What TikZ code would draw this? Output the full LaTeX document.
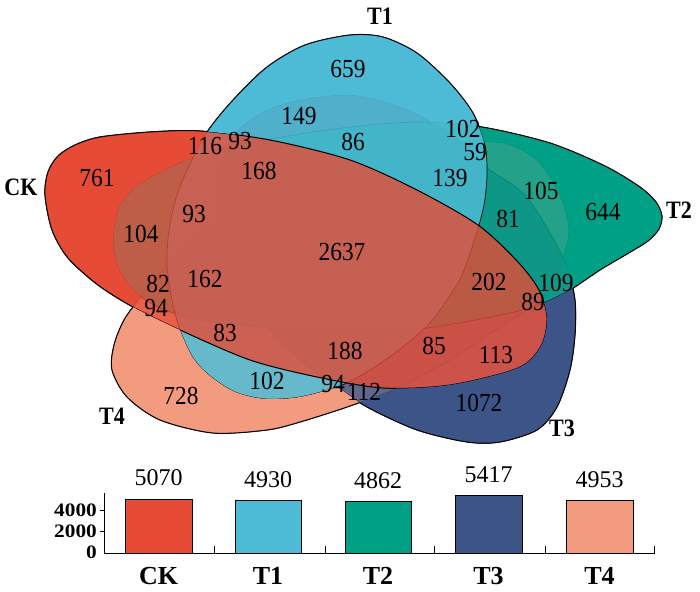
\documentclass[tikz,border=0pt]{standalone}
\usepackage{fontspec}
\setmainfont{Liberation Serif}
\newfontfamily\numfont[FakeStretch=0.9]{Liberation Serif}
\newfontfamily\labfont[FakeStretch=0.88]{Liberation Serif}
\newfontfamily\tickfont[FakeStretch=1.12]{Liberation Serif}
\definecolor{cCK}{HTML}{E64B35}
\definecolor{cTa}{HTML}{4DBBD5}
\definecolor{cTb}{HTML}{00A087}
\definecolor{cTc}{HTML}{3C5488}
\definecolor{cTd}{HTML}{F39B7F}
\def\pCK{plot[smooth cycle] coordinates {(45,195) (48,172) (58,156) (75,145) (100,137) (150,132) (200,131) (270,140) (350,160) (417,190) (478,225) (518,262) (539,290) (547,318) (541,346) (518,368) (450,385) (383,388) (317,377) (250,360) (180,330) (133,307) (98,285) (68,258) (52,230)}}
\def\pTa{plot[smooth cycle] coordinates {(350,35) (383,37) (417,53) (450,83) (473,113) (485,145) (487,175) (484,205) (476,235) (462,275) (445,303) (427,326) (400,349) (370,370) (340,386) (300,397) (265,399) (235,392) (210,376) (193,358) (180,330) (172,300) (167,265) (169,230) (176,198) (188,168) (207,132) (233,100) (267,67) (305,45)}}
\def\pTb{plot[smooth cycle] coordinates {(113,238) (120,205) (145,180) (207,152) (270,139) (350,127) (420,122) (482,127) (550,143) (605,166) (640,187) (656,202) (662,216) (659,229) (648,241) (627,254) (600,270) (570,290) (543,303) (510,313) (427,328) (350,332) (267,327) (200,320) (160,308) (133,290) (117,265)}}
\def\pTc{plot[smooth cycle] coordinates {(222,250) (217,215) (218,180) (226,150) (240,128) (267,110) (300,100) (350,95) (400,107) (450,133) (483,165) (523,193) (550,233) (567,267) (575,300) (575,335) (570,370) (557,407) (537,430) (500,442) (467,442) (417,430) (367,407) (335,385) (300,360) (267,327) (243,283)}}
\def\pTd{plot[smooth cycle] coordinates {(112,370) (114,345) (124,320) (140,298) (167,266) (217,224) (283,187) (350,162) (400,150) (450,143) (503,143) (537,160) (560,195) (569,230) (562,260) (545,297) (500,327) (450,360) (400,387) (350,406) (300,422) (267,430) (213,433) (160,420) (127,397)}}
\def\outbox{(-20,-20) -- (-20,620) -- (720,620) -- (720,-20) -- cycle}
\tikzset{
  edge/.style={draw=black, line width=0.7pt},
  outer/.style={draw=black, line width=1pt},
  num/.style={inner sep=0pt, font=\numfont\fontsize{26}{26}\selectfont},
  setlab/.style={inner sep=0pt, font=\labfont\bfseries\fontsize{25}{25}\selectfont},
  bar/.style={draw=black, line width=0.8pt},
  barval/.style={inner sep=0pt, font=\fontsize{24}{24}\selectfont},
  ticklab/.style={inner sep=0pt, anchor=east, font=\tickfont\bfseries\fontsize{19}{19}\selectfont},
  catlab/.style={inner sep=0pt, font=\bfseries\fontsize{26}{26}\selectfont},
  axisline/.style={draw=black, line width=1pt}
}
\begin{document}
\begin{tikzpicture}[x=1pt, y=-1pt]
\useasboundingbox[fill=white] (0,0) rectangle (700,591);
% layered sets
\fill[cTd, fill opacity=0.8] \pTd; \draw[edge] \pTd;
\fill[cTc, fill opacity=0.8] \pTc; \draw[edge] \pTc;
\fill[cTb, fill opacity=0.85] \pTb; \draw[edge] \pTb;
\fill[cTa, fill opacity=0.85] \pTa; \draw[edge] \pTa;
\fill[cCK, fill opacity=0.8] \pCK; \draw[outer] \pCK;
% unique regions in full colour
\begin{scope}
\clip \outbox \pTa; \clip \outbox \pTb; \clip \outbox \pTc; \clip \outbox \pTd;
\fill[cCK] \pCK; \draw[outer] \pCK;
\end{scope}
\begin{scope}
\clip \outbox \pCK; \clip \outbox \pTb; \clip \outbox \pTc; \clip \outbox \pTd;
\fill[cTa] \pTa; \draw[outer] \pTa;
\end{scope}
\begin{scope}
\clip \outbox \pCK; \clip \outbox \pTa; \clip \outbox \pTc; \clip \outbox \pTd;
\fill[cTb] \pTb; \draw[outer] \pTb;
\end{scope}
\begin{scope}
\clip \outbox \pCK; \clip \outbox \pTa; \clip \outbox \pTb; \clip \outbox \pTd;
\fill[cTc] \pTc; \draw[outer] \pTc;
\end{scope}
\begin{scope}
\clip \outbox \pCK; \clip \outbox \pTa; \clip \outbox \pTb; \clip \outbox \pTc;
\fill[cTd] \pTd; \draw[outer] \pTd;
\end{scope}
% set labels
\node[setlab] (lCK) at (21,187) {CK};
\node[setlab] (lT1) at (380,16) {T1};
\node[setlab] (lT2) at (679,210) {T2};
\node[setlab] (lT3) at (562,428) {T3};
\node[setlab] (lT4) at (112,416) {T4};
% region numbers
\node[num] (n761) at (97,178) {761};
\node[num] (n659) at (348,69) {659};
\node[num] (n149) at (299,116) {149};
\node[num] (n116) at (205,146) {116};
\node[num] (n93a) at (240,141) {93};
\node[num] (n86) at (353,142) {86};
\node[num] (n168) at (259,171) {168};
\node[num] (n93b) at (194,214) {93};
\node[num] (n104) at (141,234) {104};
\node[num] (n2637) at (342,252) {2637};
\node[num] (n162) at (205,279) {162};
\node[num] (n82) at (158,284) {82};
\node[num] (n94a) at (156,308) {94};
\node[num] (n83) at (225,333) {83};
\node[num] (n188) at (345,351) {188};
\node[num] (n102b) at (267,381) {102};
\node[num] (n94b) at (333,384) {94};
\node[num] (n112) at (364,392) {112};
\node[num] (n728) at (181,396) {728};
\node[num] (n1072) at (479,403) {1072};
\node[num] (n85) at (434,346) {85};
\node[num] (n113) at (496,355) {113};
\node[num] (n202) at (489,282) {202};
\node[num] (n89) at (533,302) {89};
\node[num] (n109) at (556,283) {109};
\node[num] (n102a) at (463,129) {102};
\node[num] (n59) at (475,152) {59};
\node[num] (n139) at (450,178) {139};
\node[num] (n105) at (541,191) {105};
\node[num] (n81) at (508,219) {81};
\node[num] (n644) at (603,212) {644};
% bar chart
\fill[cCK, bar] (125,553) rectangle (192,499);
\fill[cTa, bar] (235,553) rectangle (301,500.5);
\fill[cTb, bar] (345,553) rectangle (411,501.2);
\fill[cTc, bar] (455,553) rectangle (522,495.3);
\fill[cTd, bar] (566,553) rectangle (633,500.3);
\draw[axisline] (104,493) -- (104,553) -- (655,553);
\draw[axisline] (104,510.4) -- (100,510.4);
\draw[axisline] (104,531.7) -- (100,531.7);
\foreach \tx in {214,325,434,545,654} \draw[axisline] (\tx,553) -- (\tx,546);
\node[ticklab] (y4000) at (97,510) {4000};
\node[ticklab] (y2000) at (97,531) {2000};
\node[ticklab] (y0) at (97,552) {0};
\node[barval] (vCK) at (158.5,478) {5070};
\node[barval] (vT1) at (268,479.5) {4930};
\node[barval] (vT2) at (378,480.2) {4862};
\node[barval] (vT3) at (488.5,474.3) {5417};
\node[barval] (vT4) at (599.5,479.3) {4953};
\node[catlab] (cCKl) at (158.5,576) {CK};
\node[catlab] (cT1l) at (268,576) {T1};
\node[catlab] (cT2l) at (378,576) {T2};
\node[catlab] (cT3l) at (488.5,576) {T3};
\node[catlab] (cT4l) at (599.5,576) {T4};
\end{tikzpicture}
\end{document}
